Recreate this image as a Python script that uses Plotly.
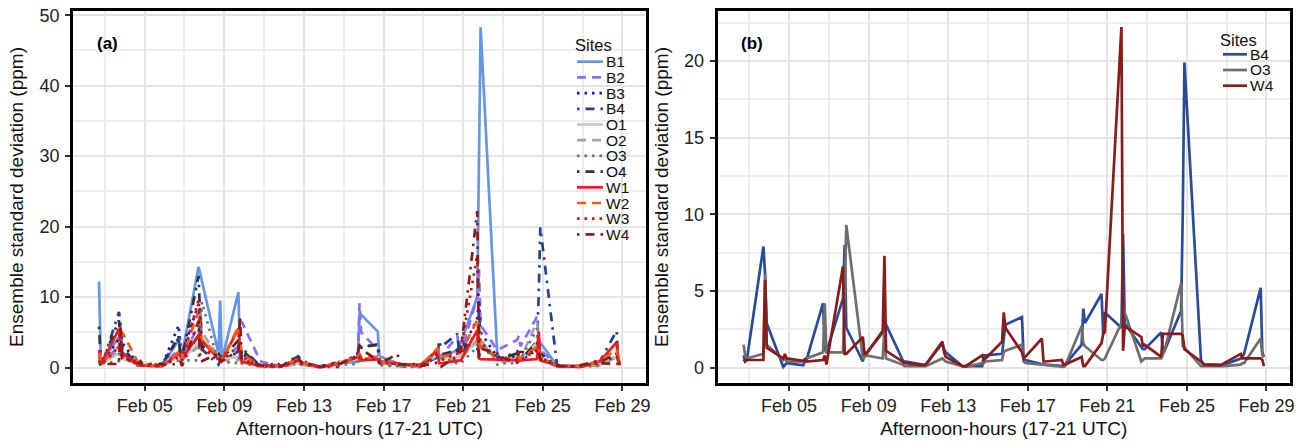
import plotly.graph_objects as go
import pandas as pd

# ---------------- data ----------------
days = list(range(2, 29))          # Feb 2 .. Feb 28
hours = [17, 19, 21]               # afternoon hours (UTC)
sites = ["B1", "B2", "B3", "B4", "O1", "O2", "O3", "O4", "W1", "W2", "W3", "W4"]
sites_b = ["B4", "O3", "W4"]
tick_labels = ["Feb 05", "Feb 09", "Feb 13", "Feb 17", "Feb 21", "Feb 25", "Feb 29"]
tick_days = [5, 9, 13, 17, 21, 25, 29]

# one triple (17h, 19h, 21h) per day, Feb 2 .. Feb 28
B1 = [[12.2, 1.5, 1.0], [4.3, 3.0, 2.2], [0.4, 0.3, 0.3], [0.2, 0.2, 0.3], [3.9, 2.5, 1.8],
      [14.3, 13.3, 12.3], [2.0, 9.5, 1.0], [10.7, 1.5, 1.0], [0.4, 0.3, 0.3], [0.2, 0.2, 0.2],
      [1.2, 0.8, 0.6], [0.2, 0.2, 0.2], [0.5, 0.6, 0.6], [0.8, 7.7, 7.5], [5.1, 1.6, 1.5],
      [0.5, 0.5, 0.5], [0.4, 0.4, 0.5], [1.5, 1.5, 1.4], [2.5, 3.0, 3.5], [10.0, 30.0, 48.3],
      [2.0, 1.5, 1.4], [1.2, 1.1, 1.0], [3.0, 4.0, 3.5], [0.3, 0.2, 0.2], [0.2, 0.2, 0.2],
      [0.5, 0.5, 0.6], [1.5, 1.0, 0.6]]
B2 = [[1.5, 0.8, 0.8], [3.0, 2.5, 2.0], [0.5, 0.4, 0.3], [0.2, 0.2, 0.3], [2.5, 1.5, 1.2],
      [6.0, 5.0, 3.5], [1.5, 1.2, 1.0], [3.0, 5.0, 6.5], [1.5, 1.0, 0.8], [0.3, 0.2, 0.2],
      [0.8, 0.6, 0.5], [0.2, 0.2, 0.2], [0.5, 0.5, 0.6], [1.0, 9.1, 5.0], [2.5, 1.2, 1.0],
      [0.5, 0.5, 0.5], [0.4, 0.4, 0.4], [2.2, 1.8, 1.5], [4.5, 2.5, 2.0], [10.0, 14.0, 6.0],
      [2.5, 2.6, 2.7], [3.9, 4.5, 3.0], [7.2, 4.0, 2.5], [0.3, 0.2, 0.2], [0.2, 0.2, 0.2],
      [0.5, 0.6, 0.6], [1.5, 1.0, 0.8]]
B3 = [[1.0, 0.8, 0.6], [4.1, 5.0, 3.5], [0.3, 0.3, 0.3], [0.2, 0.2, 0.2], [6.0, 3.0, 2.0],
      [9.0, 5.0, 3.0], [1.0, 1.0, 1.0], [2.2, 2.5, 2.0], [0.3, 0.3, 0.3], [0.5, 0.3, 0.3],
      [0.6, 0.5, 0.4], [0.1, 0.1, 0.2], [0.3, 0.4, 0.5], [2.0, 1.5, 1.2], [1.5, 1.0, 0.8],
      [0.5, 0.4, 0.4], [0.3, 0.3, 0.3], [1.5, 1.2, 1.0], [2.5, 2.0, 2.0], [7.0, 9.6, 5.0],
      [1.5, 1.5, 1.3], [1.5, 1.2, 1.0], [2.5, 2.0, 1.5], [0.2, 0.2, 0.2], [0.2, 0.2, 0.2],
      [0.5, 0.5, 0.5], [1.5, 1.0, 0.6]]
B4 = [[0.8, 0.4, 0.5], [7.9, 6.1, 2.9], [0.05, 0.2, 0.3], [0.15, 0.4, 0.5], [4.2, 1.2, 1.0],
      [4.5, 8.0, 2.6], [0.4, 1.0, 0.9], [2.3, 3.0, 2.8], [0.5, 0.4, 0.4], [0.2, 0.2, 0.2],
      [1.6, 1.2, 1.0], [0.1, 0.1, 0.1], [0.1, 0.8, 0.8], [0.9, 2.0, 2.8], [3.3, 0.6, 0.5],
      [0.2, 0.2, 0.2], [0.1, 0.1, 0.2], [1.5, 3.85, 2.9], [4.8, 2.2, 3.6], [2.6, 8.7, 2.9],
      [1.35, 1.2, 1.2], [2.3, 1.2, 1.1], [3.7, 10.0, 19.9], [0.5, 0.3, 0.2], [0.2, 0.2, 0.2],
      [0.6, 0.7, 0.9], [5.2, 1.0, 0.7]]
O1 = [[0.8, 0.6, 0.6], [2.0, 1.5, 1.2], [0.4, 0.3, 0.3], [0.2, 0.2, 0.2], [1.5, 1.2, 1.0],
      [3.5, 5.0, 4.0], [2.0, 1.5, 1.2], [1.5, 2.0, 1.5], [0.2, 0.2, 0.2], [0.2, 0.2, 0.2],
      [0.6, 0.5, 0.4], [0.1, 0.1, 0.1], [0.5, 0.8, 0.8], [1.2, 1.0, 1.0], [1.5, 1.2, 1.0],
      [0.4, 0.4, 0.3], [0.2, 0.2, 0.2], [1.8, 1.5, 1.2], [1.5, 1.5, 1.8], [3.5, 4.2, 3.5],
      [1.0, 1.0, 1.0], [1.2, 1.2, 1.1], [3.5, 2.5, 1.5], [0.1, 0.1, 0.1], [0.1, 0.1, 0.1],
      [0.3, 0.4, 0.4], [1.5, 0.8, 0.6]]
O2 = [[1.2, 0.6, 0.5], [2.5, 2.0, 1.5], [0.4, 0.3, 0.3], [0.2, 0.2, 0.2], [2.0, 1.5, 1.0],
      [3.0, 8.5, 5.0], [1.5, 1.2, 1.0], [1.0, 2.0, 1.0], [0.2, 0.2, 0.1], [0.1, 0.1, 0.1],
      [0.5, 0.4, 0.4], [0.1, 0.1, 0.1], [0.8, 1.0, 0.9], [0.8, 1.2, 1.0], [1.2, 0.8, 0.6],
      [0.3, 0.3, 0.3], [0.1, 0.1, 0.1], [2.0, 1.5, 1.2], [1.0, 1.0, 1.2], [4.0, 6.5, 4.0],
      [0.8, 0.8, 0.8], [1.0, 1.2, 1.2], [6.5, 2.0, 1.5], [0.1, 0.1, 0.1], [0.1, 0.1, 0.1],
      [0.3, 0.3, 0.3], [1.5, 0.8, 0.6]]
O3 = [[1.5, 0.8, 0.6], [0.9, 6.1, 1.5], [0.5, 0.6, 0.4], [0.4, 0.5, 0.6], [1.0, 4.2, 1.0],
      [1.0, 4.5, 9.3], [0.6, 0.7, 0.8], [0.6, 2.5, 0.6], [0.2, 0.1, 0.1], [0.1, 0.1, 0.1],
      [0.6, 0.5, 0.4], [0.1, 0.05, 0.05], [0.3, 0.3, 0.4], [0.5, 1.0, 1.1], [1.5, 0.4, 0.3],
      [0.2, 0.2, 0.15], [0.05, 0.05, 0.1], [2.7, 1.6, 1.4], [0.5, 0.5, 0.6], [2.9, 4.0, 3.6],
      [0.4, 0.5, 0.6], [0.6, 0.9, 1.1], [5.5, 1.4, 1.3], [0.1, 0.1, 0.1], [0.1, 0.1, 0.1],
      [0.2, 0.3, 0.3], [1.9, 0.8, 0.7]]
O4 = [[5.8, 1.0, 0.8], [6.7, 4.0, 2.5], [0.5, 0.4, 0.4], [0.3, 0.3, 0.3], [4.4, 2.0, 1.2],
      [13.0, 7.0, 3.0], [2.0, 1.5, 1.2], [3.9, 3.0, 2.5], [0.4, 0.3, 0.3], [0.2, 0.2, 0.2],
      [1.2, 1.0, 0.8], [0.2, 0.2, 0.2], [0.6, 0.8, 0.8], [1.5, 3.0, 3.0], [3.2, 1.0, 0.8],
      [0.5, 0.5, 0.4], [0.3, 0.3, 0.3], [2.0, 2.0, 1.8], [2.5, 2.0, 2.0], [5.0, 4.0, 3.0],
      [1.5, 1.3, 1.2], [2.0, 1.5, 1.2], [3.5, 2.5, 2.0], [0.2, 0.2, 0.2], [0.2, 0.2, 0.2],
      [0.6, 0.7, 0.8], [2.0, 1.0, 0.7]]
W1 = [[2.5, 0.8, 0.7], [5.5, 2.5, 2.0], [0.3, 0.3, 0.3], [0.2, 0.2, 0.2], [2.0, 1.5, 1.2],
      [4.6, 4.2, 3.8], [1.2, 1.1, 1.0], [5.5, 2.0, 0.8], [0.3, 0.2, 0.2], [0.2, 0.2, 0.2],
      [1.0, 0.8, 0.7], [0.1, 0.1, 0.1], [0.5, 0.6, 0.6], [1.5, 1.2, 1.0], [1.2, 1.0, 0.8],
      [0.6, 0.5, 0.5], [0.3, 0.3, 0.4], [2.5, 0.6, 0.6], [1.0, 1.0, 1.0], [5.3, 1.3, 1.2],
      [1.2, 1.1, 1.1], [1.0, 1.0, 1.0], [1.2, 5.1, 1.0], [0.3, 0.3, 0.2], [0.1, 0.1, 0.1],
      [0.8, 0.8, 0.9], [3.6, 1.0, 0.3]]
W2 = [[2.0, 0.8, 0.7], [3.0, 4.5, 5.0], [0.5, 0.4, 0.4], [0.2, 0.2, 0.2], [2.2, 1.5, 1.2],
      [8.0, 5.0, 4.0], [1.5, 1.2, 1.0], [5.8, 4.0, 2.0], [0.3, 0.2, 0.2], [0.2, 0.2, 0.2],
      [1.2, 0.9, 0.7], [0.1, 0.1, 0.1], [0.6, 0.8, 0.8], [1.5, 2.0, 1.5], [1.5, 1.0, 0.8],
      [0.5, 0.4, 0.4], [0.3, 0.3, 0.3], [2.7, 2.0, 1.5], [2.0, 2.0, 2.2], [6.7, 4.0, 3.0],
      [1.5, 1.3, 1.2], [1.5, 1.3, 1.2], [3.0, 2.5, 1.5], [0.2, 0.2, 0.2], [0.2, 0.2, 0.2],
      [0.8, 0.9, 1.0], [2.5, 1.2, 0.5]]
W3 = [[1.0, 0.6, 0.5], [3.0, 2.0, 1.5], [0.4, 0.3, 0.3], [0.2, 0.2, 0.2], [1.5, 1.2, 1.0],
      [9.6, 5.0, 2.5], [1.5, 1.2, 1.0], [3.0, 2.5, 1.5], [0.3, 0.2, 0.2], [0.2, 0.2, 0.2],
      [1.0, 0.8, 0.6], [0.1, 0.1, 0.1], [0.5, 0.6, 0.6], [1.5, 1.5, 1.2], [1.2, 0.8, 0.7],
      [0.5, 0.4, 0.4], [0.3, 0.3, 0.3], [1.5, 1.2, 1.0], [2.0, 2.0, 2.5], [16.0, 6.0, 3.5],
      [1.5, 1.3, 1.2], [1.2, 1.2, 1.0], [2.5, 2.0, 1.5], [0.2, 0.2, 0.2], [0.2, 0.2, 0.2],
      [0.6, 0.7, 0.8], [1.5, 1.0, 0.5]]
W4 = [[0.4, 0.5, 0.5], [0.5, 5.7, 1.3], [0.6, 0.9, 0.6], [0.45, 0.55, 0.4], [0.5, 0.8, 0.2],
      [6.6, 0.9, 0.9], [2.0, 0.9, 0.9], [2.4, 7.3, 1.1], [0.4, 0.3, 0.3], [0.15, 0.15, 0.2],
      [1.7, 1.0, 0.7], [0.1, 0.1, 0.1], [0.8, 0.5, 0.6], [1.7, 3.6, 2.6], [1.0, 0.6, 0.7],
      [1.9, 0.4, 0.4], [0.5, 0.2, 0.2], [0.7, 0.1, 0.1], [1.6, 2.2, 2.3], [22.2, 1.1, 2.7],
      [2.0, 1.4, 1.5], [0.7, 2.2, 2.2], [2.2, 2.1, 1.2], [0.4, 0.3, 0.2], [0.15, 0.2, 0.3],
      [0.9, 0.6, 0.6], [0.6, 0.5, 0.1]]

series = {"B1": B1, "B2": B2, "B3": B3, "B4": B4, "O1": O1, "O2": O2,
          "O3": O3, "O4": O4, "W1": W1, "W2": W2, "W3": W3, "W4": W4}

# ---------------- styles ----------------
DASHED = "9px,6px"
DOTTED = "2.5px,5px"
DOTDASH = "2.5px,6px,9px,6px"
style_a = {
    "B1": ("#6495ED", "solid"), "B2": ("#8470FF", DASHED), "B3": ("#1414E6", DOTTED),
    "B4": ("#27408B", DOTDASH), "O1": ("#C8C8C8", "solid"), "O2": ("#A3A3A3", DASHED),
    "O3": ("#707070", DOTTED), "O4": ("#333333", DOTDASH), "W1": ("#F21A1A", "solid"),
    "W2": ("#FF5A14", DASHED), "W3": ("#CD1010", DOTTED), "W4": ("#8B1A1A", DOTDASH),
}
style_b = {"B4": "#2A4B9B", "O3": "#6E6E6E", "W4": "#8B1A1A"}
LW = 2.7
FONT = "Liberation Sans, Arial, sans-serif"

times = [pd.Timestamp(2020, 2, d, h) for d in days for h in hours]


def flat(rows):
    return [v for r in rows for v in r]


# figure geometry (pixels)
W, H = 1307, 444
ML, MR, MT, MB = 73, 17, 11, 61
PW, PH = W - ML - MR, H - MT - MB


def px(xp):
    return (xp - ML) / PW


def py(yp):
    return (H - MB - yp) / PH


fig = go.Figure()
for s in sites:
    c, d = style_a[s]
    fig.add_trace(go.Scatter(x=times, y=flat(series[s]), mode="lines", name=s,
                             line=dict(color=c, width=LW, dash=d),
                             xaxis="x", yaxis="y", showlegend=False))
for s in sites_b:
    fig.add_trace(go.Scatter(x=times, y=flat(series[s]), mode="lines", name=s,
                             line=dict(color=style_b[s], width=LW),
                             xaxis="x2", yaxis="y2", showlegend=False))

# axis ranges with 5% expansion
t0, t1 = min(times), max(times)
span = t1 - t0
xr = [t0 - 0.05 * span, t1 + 0.05 * span]
tickvals = [pd.Timestamp(2020, 2, d) for d in tick_days]

grid_major = "#E4E4E4"
grid_minor = "#EDEDED"
TITLE_FONT = dict(size=19, color="#111111", family=FONT)
axis_common = dict(showline=True, mirror=True, linecolor="black", linewidth=2.6,
                   ticks="outside", ticklen=5, tickwidth=2, tickcolor="#333333",
                   gridcolor=grid_major, gridwidth=2, zeroline=False,
                   tickfont=dict(size=18, color="#222222", family=FONT))
xaxis_common = dict(axis_common, type="date", range=xr, tickvals=tickvals, ticktext=tick_labels,
                    minor=dict(dtick=2 * 86400000, tick0="2020-02-01", showgrid=True,
                               gridcolor=grid_minor, gridwidth=1.5, ticks=""),
                    title=dict(text="Afternoon-hours (17-21 UTC)", standoff=7, font=TITLE_FONT))

fig.update_layout(
    width=W, height=H,
    margin=dict(l=ML, r=MR, t=MT, b=MB, autoexpand=False),
    plot_bgcolor="white", paper_bgcolor="white",
    font=dict(family=FONT, color="#111111"),
    xaxis=dict(xaxis_common, domain=[0, px(646)], anchor="y"),
    xaxis2=dict(xaxis_common, domain=[px(717.5), 1], anchor="y2"),
    yaxis=dict(axis_common, range=[-2.2, 50.6], dtick=10, anchor="x", ticklabelstandoff=2,
               minor=dict(dtick=5, showgrid=True, gridcolor=grid_minor, gridwidth=1.5, ticks=""),
               title=dict(text="Ensemble standard deviation (ppm)", standoff=11, font=TITLE_FONT)),
    yaxis2=dict(axis_common, range=[-1.0, 23.25], dtick=5, anchor="x2", ticklabelstandoff=2,
                minor=dict(dtick=2.5, showgrid=True, gridcolor=grid_minor, gridwidth=1.5, ticks=""),
                title=dict(text="Ensemble standard deviation (ppm)", standoff=11, font=TITLE_FONT)),
)

# panel labels
annotations = [
    dict(text="<b>(a)</b>", x=px(95), y=py(43), xref="paper", yref="paper",
         xanchor="left", yanchor="middle", showarrow=False, font=dict(size=17, color="black")),
    dict(text="<b>(b)</b>", x=px(739), y=py(43), xref="paper", yref="paper",
         xanchor="left", yanchor="middle", showarrow=False, font=dict(size=17, color="black")),
]
shapes = []

# legends (key samples + text)
STEP = 15.7
LEG_FONT = dict(size=15.5, color="#111111", family=FONT)


def legend(names, colors, dashes, x_title, y_title, x_line0, x_line1, y_first):
    annotations.append(dict(text="Sites", x=px(x_title), y=py(y_title), xref="paper", yref="paper",
                            xanchor="left", yanchor="middle", showarrow=False,
                            font=dict(LEG_FONT, size=16.5)))
    for i, n in enumerate(names):
        yy = y_first + i * STEP
        shapes.append(dict(type="line", xref="paper", yref="paper",
                           x0=px(x_line0), x1=px(x_line1), y0=py(yy), y1=py(yy),
                           line=dict(color=colors[i], width=LW, dash=dashes[i])))
        annotations.append(dict(text=n, x=px(x_line1 + 1), y=py(yy), xref="paper", yref="paper",
                                xanchor="left", yanchor="middle", showarrow=False,
                                font=LEG_FONT))


legend(sites, [style_a[s][0] for s in sites], [style_a[s][1] for s in sites],
       573, 45, 577, 603, 61.7)
legend(sites_b, [style_b[s] for s in sites_b], ["solid"] * 3,
       1218, 40, 1223, 1247, 54.3)

fig.update_layout(annotations=annotations, shapes=shapes)
fig.write_html("out.html", config={"displayModeBar": False},
               post_script="document.body.style.margin='0px';")
